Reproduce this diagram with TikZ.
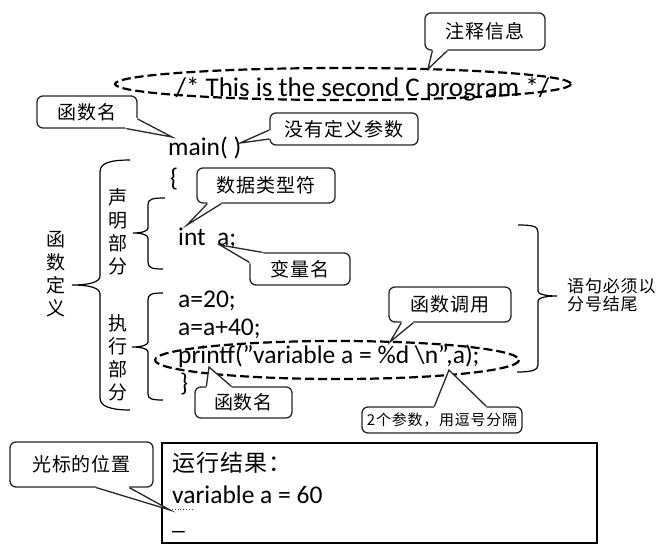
\documentclass[tikz,border=0pt]{standalone}
\usepackage{fontspec}
\setmainfont{Carlito}
\newfontfamily\cjk[LetterSpace=5]{Noto Sans CJK SC}
\usetikzlibrary{calc}

% pointer of a callout: base point #1, tip #2, base point #3, inward shift #4
\newcommand\callptr[4]{%
  \fill[white] ($(#1)+(#4)$) -- (#1) -- (#2) -- (#3) -- ($(#3)+(#4)$) -- cycle;
  \draw[ptr] (#1) -- (#2) -- (#3);}

\tikzset{
  callbox/.style={draw=black!85, line width=1.3pt, rounded corners=6pt, fill=white,
    inner sep=0pt, font=\cjk\fontsize{19}{22}\selectfont},
  ptr/.style={draw=black!85, line width=1.3pt, line join=miter},
  code/.style={anchor=base west, inner sep=0pt, font=\fontsize{25.5}{28}\selectfont},
  hilite/.style={draw=black, line width=2.2pt, dash pattern=on 9pt off 4pt},
  bracket/.style={draw=black, line width=1.2pt},
  vlabel/.style={align=center, inner sep=0pt, font=\cjk\fontsize{19}{23}\selectfont},
}

\begin{document}
\begin{tikzpicture}[x=1pt, y=-1pt]
\useasboundingbox (0,0) rectangle (669,544);

% --- comment line ---
\draw[hilite] (343,84) ellipse [x radius=228, y radius=16];
\node[anchor=base, inner sep=0pt, font=\fontsize{27}{30}\selectfont] (cmt) at (362.5,96)
  {/* This is the second C program */};

% --- program text ---
\node[code] (main) at (168,155) {main( )};
\node[code] (lbr) at (170,186) {\{};
\node[code] (decl) at (178,245) {int\ \ a;};
\node[code] (s1) at (178,307) {a=20;};
\node[code] (s2) at (178,335) {a=a+40;};
\node[code] (pf) at (178,363) {printf("variable a = \%d \textbackslash n",a);};
\node[code] (rbr) at (180,391) {\}};
\draw[hilite] (337,360) ellipse [x radius=182, y radius=19];

% --- brackets on the left ---
\draw[bracket] (130,160) .. controls (110,160) and (100,163) .. (100,172) -- (100,276)
  .. controls (100,282) and (90,285) .. (72,285) .. controls (90,285) and (100,288) .. (100,294)
  -- (100,398) .. controls (100,406) and (110,410) .. (130,410);
\draw[bracket] (165,198) .. controls (152,198) and (148,199) .. (148,205) -- (148,228)
  .. controls (148,231) and (142,233) .. (133,233) .. controls (142,233) and (148,235) .. (148,238)
  -- (148,262) .. controls (148,268) and (152,269) .. (163,269);
\draw[bracket] (163,293) .. controls (152,293) and (148,294) .. (148,300) -- (148,342)
  .. controls (148,345) and (142,347) .. (132,347) .. controls (142,347) and (148,349) .. (148,352)
  -- (148,394) .. controls (148,399) and (152,400) .. (163,400);
\node[vlabel] (fdef) at (56,274.5) {函\\数\\定\\义};
\node[vlabel] (dpart) at (118,232) {声\\明\\部\\分};
\node[vlabel] (epart) at (118,357.5) {执\\行\\部\\分};

% --- bracket on the right ---
\draw[bracket] (518,225) .. controls (532,225) and (538,226) .. (538,232) -- (538,291)
  .. controls (538,294) and (545,296) .. (557,296) .. controls (545,296) and (538,298) .. (538,301)
  -- (538,365) .. controls (538,370) and (532,372) .. (517,372);
\node[anchor=west, align=left, inner sep=0pt, font=\cjk\fontsize{17}{18}\selectfont] (semi)
  at (567,295) {语句必须以\\分号结尾};

% --- output window ---
\draw[line width=1.2pt] (162,443) rectangle (597,543);
\node[anchor=west, inner sep=0pt, font=\cjk\fontsize{23}{26}\selectfont] (res) at (172,463) {运行结果：};
\node[code] (outl) at (172,503) {variable a = 60};
\node[code] (cur) at (172,529) {\_};
\draw[black!70, line width=0.8pt, dotted] (172,509) -- (193,509);

% --- tips of the callouts ---
\coordinate (t1) at (428,69);
\coordinate (t2) at (172,137);
\coordinate (t3) at (240,143);
\coordinate (t4) at (187,225);
\coordinate (t5) at (220,245);
\coordinate (t6) at (390,342);
\coordinate (t7) at (209,367);
\coordinate (t8) at (449,370);
\coordinate (t9) at (170,510);

% --- callouts ---
\node[callbox, minimum width=120pt, minimum height=37pt] (c1) at (485,31.5) {注释信息};
\coordinate (c1a) at ($(c1.south west)+(8,0)$);
\coordinate (c1b) at ($(c1.south west)+(23,0)$);
\callptr{c1a}{t1}{c1b}{0,-3}

\node[callbox, minimum width=100pt, minimum height=32pt] (c2) at (87,112) {函数名};
\coordinate (c2a) at ($(c2.east)+(0,7)$);
\coordinate (c2b) at ($(c2.south east)+(-11,0)$);
\callptr{c2a}{t2}{c2b}{-3,-3}

\node[callbox, minimum width=148pt, minimum height=32pt] (c3) at (344,129) {没有定义参数};
\coordinate (c3a) at ($(c3.west)+(0,1)$);
\coordinate (c3b) at ($(c3.west)+(0,10)$);
\callptr{c3a}{t3}{c3b}{3,0}

\node[callbox, minimum width=138pt, minimum height=35pt] (c4) at (266,185.5) {数据类型符};
\coordinate (c4a) at ($(c4.south west)+(11,0)$);
\coordinate (c4b) at ($(c4.south west)+(25,0)$);
\callptr{c4a}{t4}{c4b}{0,-3}

\node[callbox, minimum width=100pt, minimum height=32pt] (c5) at (300,269) {变量名};
\coordinate (c5a) at ($(c5.north west)+(13,0)$);
\coordinate (c5b) at ($(c5.north west)+(0,10)$);
\callptr{c5a}{t5}{c5b}{3,3}

\node[callbox, minimum width=122pt, minimum height=35pt] (c6) at (450,304.5) {函数调用};
\coordinate (c6a) at ($(c6.south west)+(13,0)$);
\coordinate (c6b) at ($(c6.south west)+(25,0)$);
\callptr{c6a}{t6}{c6b}{0,-3}

\node[callbox, minimum width=97pt, minimum height=31pt] (c7) at (243.5,402.5) {函数名};
\coordinate (c7a) at ($(c7.north west)+(12,0)$);
\coordinate (c7b) at ($(c7.north west)+(37,0)$);
\callptr{c7a}{t7}{c7b}{0,3}

\node[callbox, minimum width=160pt, minimum height=26pt, font=\cjk\fontsize{15}{18}\selectfont]
  (c8) at (442,420) {2个参数，用逗号分隔};
\coordinate (c8a) at ($(c8.north west)+(73,0)$);
\coordinate (c8b) at ($(c8.north west)+(125,0)$);
\callptr{c8a}{t8}{c8b}{0,3}

\node[callbox, minimum width=143pt, minimum height=45pt] (c9) at (81.5,464.5) {光标的位置};
\coordinate (c9a) at ($(c9.south west)+(87,0)$);
\coordinate (c9b) at ($(c9.south west)+(120,0)$);
\callptr{c9a}{t9}{c9b}{0,-3}
\end{tikzpicture}
\end{document}
